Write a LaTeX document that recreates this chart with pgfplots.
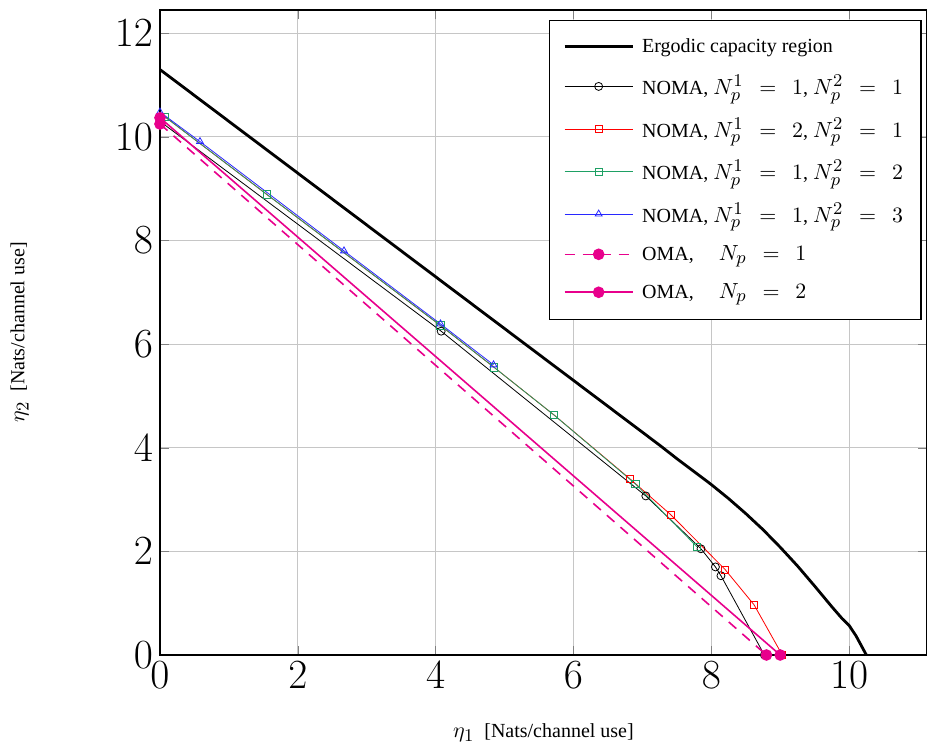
\documentclass[border=0pt]{standalone}
\usepackage{fontspec}
\setmainfont{Liberation Serif}
\usepackage{pgfplots}
\pgfplotsset{compat=1.18}
\DeclareMathSizes{10}{11}{9.3}{7.5}

\definecolor{nomagreen}{RGB}{30,160,100}
\definecolor{nomablue}{RGB}{40,40,255}
\definecolor{omapink}{RGB}{232,0,140}

\begin{document}
\begin{tikzpicture}
\begin{axis}[
    scale only axis,
    width=383.5pt,
    height=322.5pt,
    xmin=0, xmax=11.13,
    ymin=0, ymax=12.45,
    xtick={0,2,...,10},
    ytick={0,2,...,12},
    grid=major,
    grid style={gray!45, line width=0.5pt},
    axis line style={line width=0.6pt},
    tick label style={font=\huge},
    every axis x label/.style={at={(axis description cs:0.5,-0.121)}, anchor=center, font=\normalsize},
    every axis y label/.style={at={(axis description cs:-0.183,0.5)}, anchor=center, rotate=90, font=\normalsize},
    xlabel={$\eta_1$ \ [Nats/channel use]},
    ylabel={$\eta_2$ \ [Nats/channel use]},
    legend style={at={(0.993,0.985)}, anchor=north east, font=\normalsize,
        fill=white, line width=0.6pt, row sep=6pt, column sep=2pt,
        inner xsep=7pt, inner ysep=7pt,
        nodes={inner sep=2pt}},
    legend cell align=left,
    legend image code/.code={
        \draw[mark repeat=2, mark phase=2, #1]
        plot coordinates {(0cm,0cm) (0.6cm,0cm) (1.2cm,0cm)};},
]

% ergodic capacity region
\addplot[black, line width=1.4pt, mark=none] coordinates {
    (0,11.3) (1,10.3) (2,9.3) (3,8.3) (4,7.3) (5,6.3) (6,5.3) (7,4.3)
    (7.25,4.05) (7.5,3.79) (7.75,3.54) (8,3.29) (8.25,3.02) (8.5,2.73)
    (8.75,2.42) (9,2.08) (9.25,1.72) (9.5,1.33) (9.75,0.93) (9.9,0.70)
    (10,0.57) (10.1,0.37) (10.25,0)
};
\addlegendentry{Ergodic capacity region}

\addplot[black, thin, mark=o, mark size=2pt] coordinates {
    (0,10.3) (4.08,6.25) (7.05,3.07) (7.85,2.05) (8.06,1.70) (8.14,1.53) (8.77,0)
};
\addlegendentry{NOMA, $N_p^1 \;\,=\;\, 1$, $N_p^2 \;\,=\;\, 1$}

\addplot[red, thin, mark=square, mark size=1.8pt] coordinates {
    (0.07,10.39) (1.55,8.89) (4.07,6.36) (4.85,5.55) (5.72,4.63)
    (6.82,3.40) (7.41,2.71) (8.2,1.65) (8.62,0.97) (9.03,0)
};
\addlegendentry{NOMA, $N_p^1 \;\,=\;\, 2$, $N_p^2 \;\,=\;\, 1$}

\addplot[nomagreen, thin, mark=square, mark size=1.8pt] coordinates {
    (0.07,10.39) (1.55,8.89) (4.07,6.36) (4.85,5.55) (5.72,4.63)
    (6.90,3.30) (7.79,2.09)
};
\addlegendentry{NOMA, $N_p^1 \;\,=\;\, 1$, $N_p^2 \;\,=\;\, 2$}

\addplot[nomablue, thin, mark=triangle, mark size=2pt] coordinates {
    (0,10.48) (0.58,9.91) (2.67,7.80) (4.07,6.39) (4.84,5.60)
};
\addlegendentry{NOMA, $N_p^1 \;\,=\;\, 1$, $N_p^2 \;\,=\;\, 3$}

\addplot[omapink, thick, dash pattern=on 5pt off 4pt, mark=*, mark size=2.5pt,
    mark options={solid}] coordinates {
    (0,10.25) (8.8,0)
};
\addlegendentry{OMA, \quad $N_p \;\,=\;\, 1$}

\addplot[omapink, thick, mark=*, mark size=2.5pt, mark options={solid}] coordinates {
    (0,10.37) (9.0,0)
};
\addlegendentry{OMA, \quad $N_p \;\,=\;\, 2$}

\end{axis}
\pgfresetboundingbox
\path ([shift={(-80pt,-46.5pt)}]current axis.south west)
    rectangle ([yshift=5pt]current axis.north east);
\end{tikzpicture}
\end{document}
